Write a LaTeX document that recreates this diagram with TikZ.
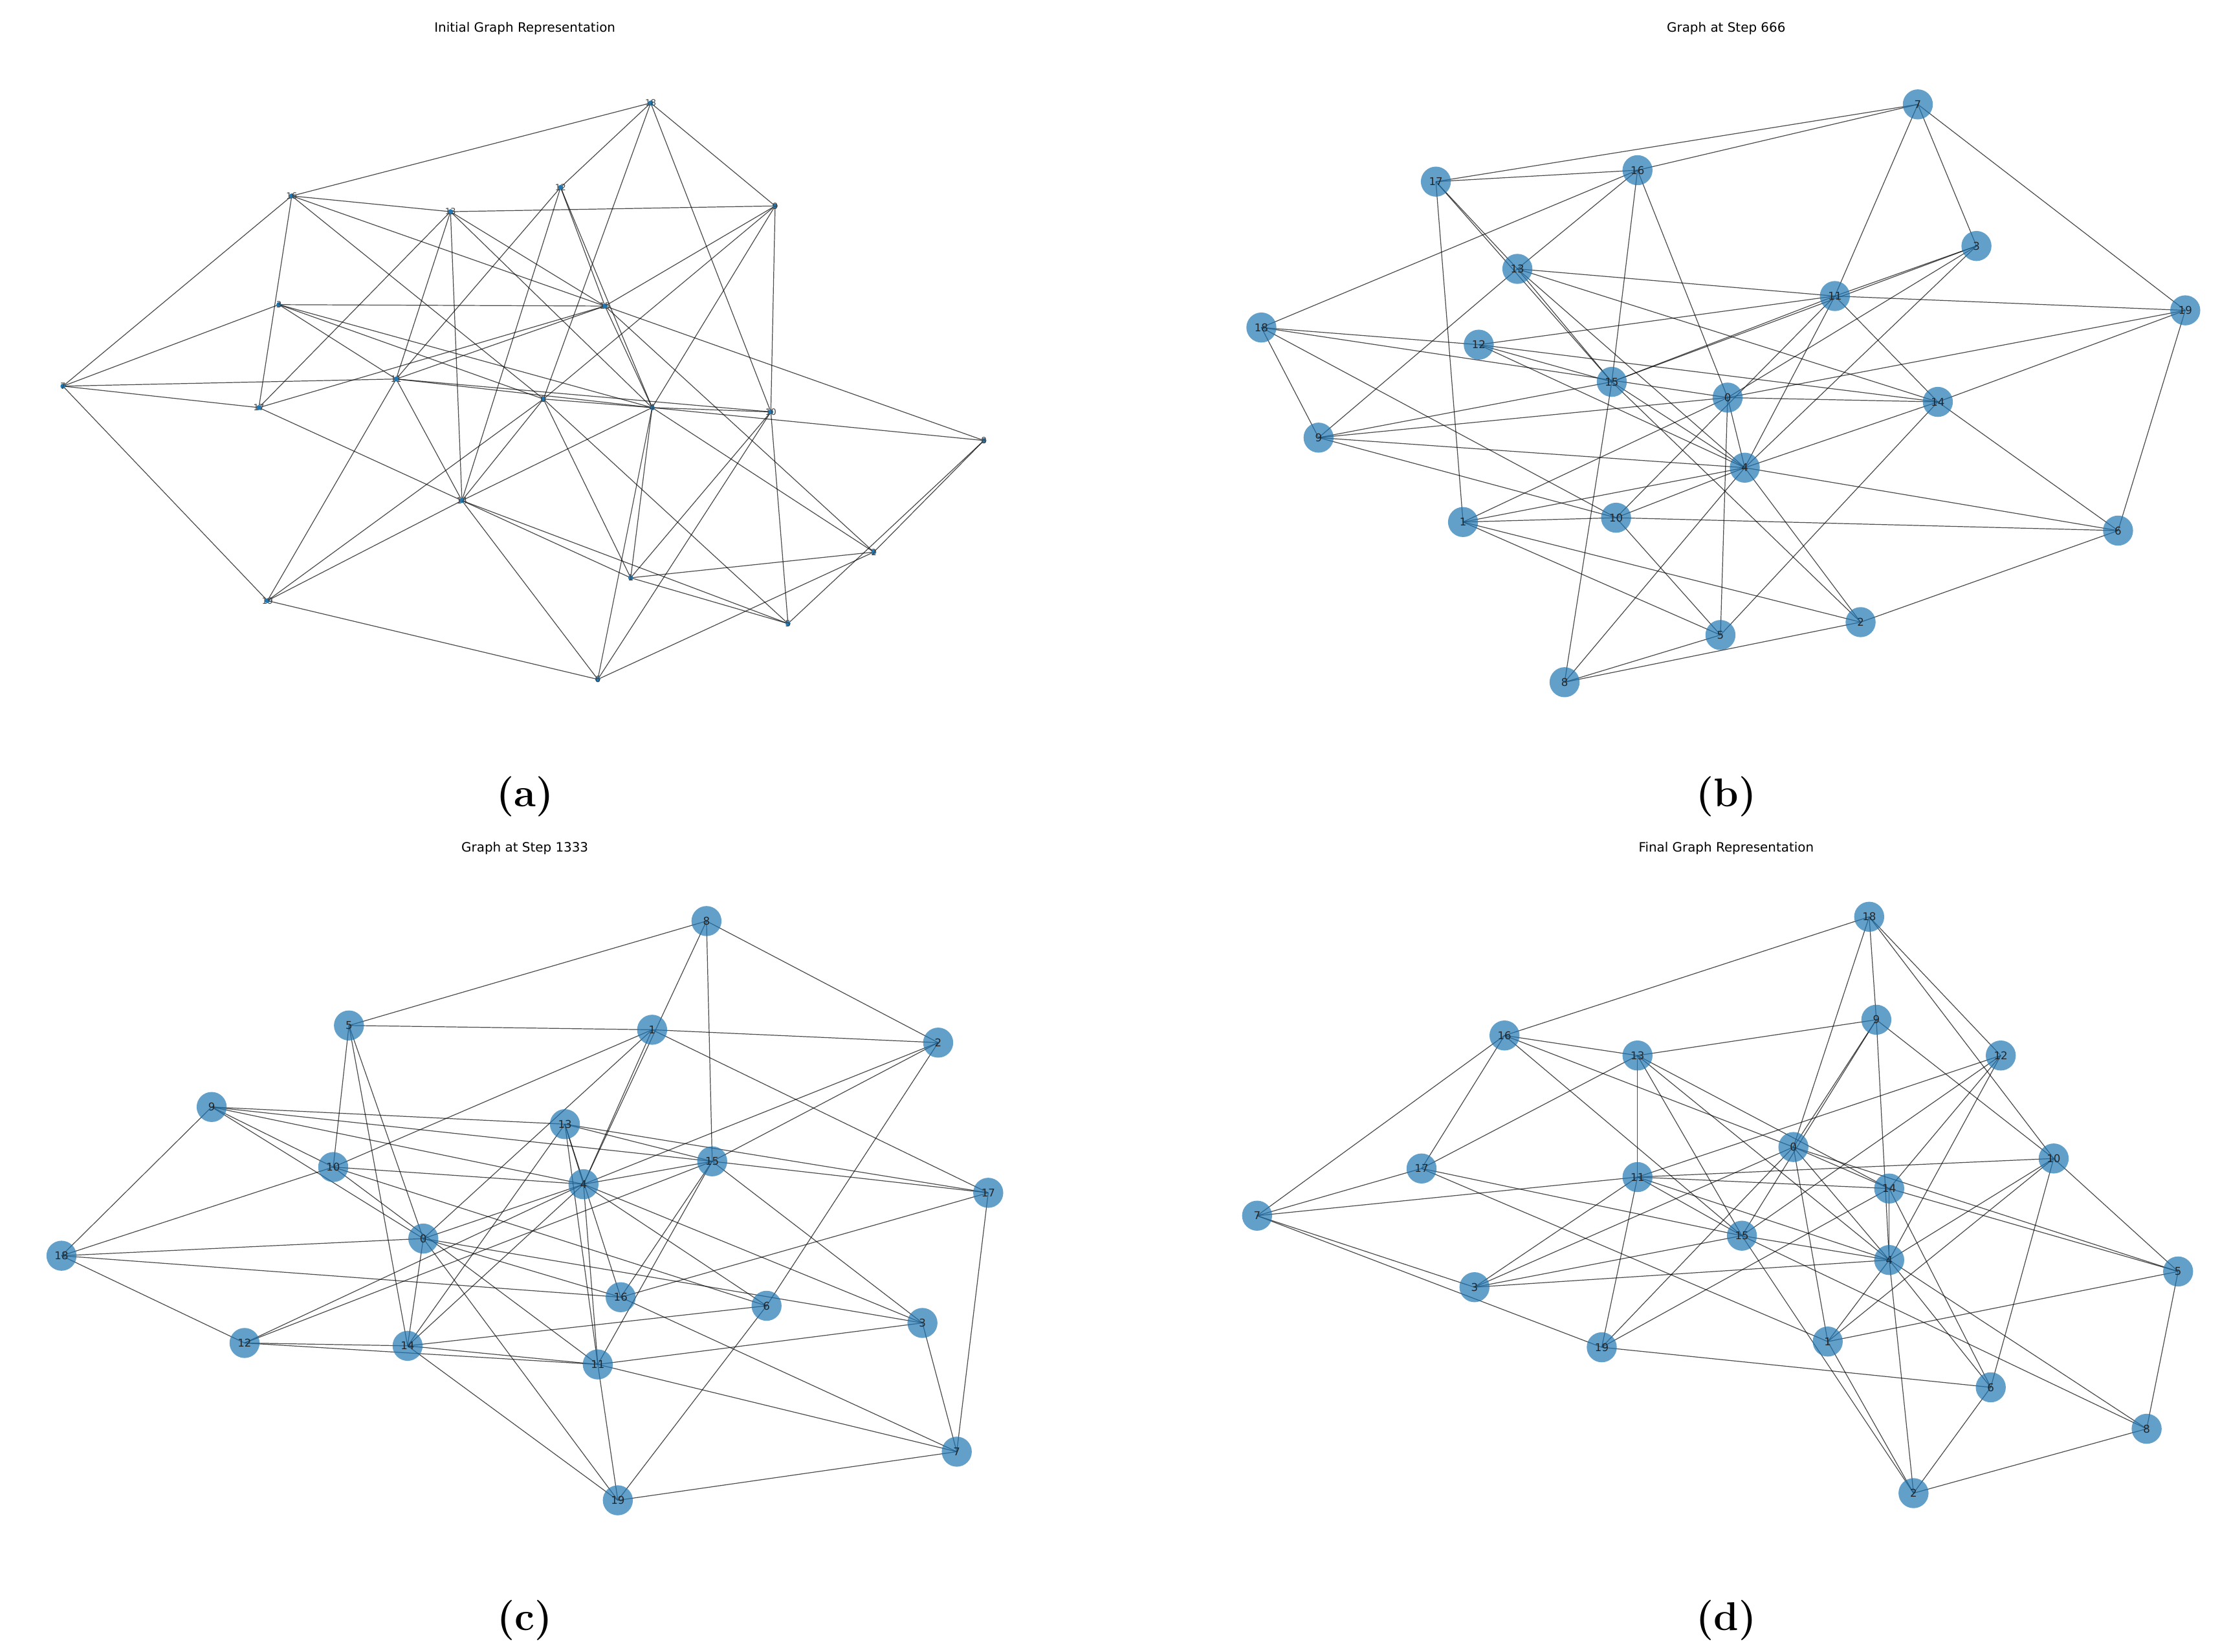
\documentclass[tikz,border=0pt]{standalone}
\usepackage{fontspec}
\newfontfamily\dvs{DejaVu Sans}
\begin{document}
\begin{tikzpicture}[x=1pt,y=-1pt,
  edge/.style={draw=black,draw opacity=0.7,line width=0.55pt},
  bignode/.style={circle,fill={rgb,255:red,31;green,119;blue,180},fill opacity=0.7,text opacity=1,minimum size=21pt,inner sep=0pt,text=black!85,font=\dvs\fontsize{7.5}{8}\selectfont},
  smallnode/.style={circle,fill={rgb,255:red,31;green,119;blue,180},minimum size=3.5pt,inner sep=0pt},
  smalllabel/.style={text=black!75,font=\dvs\fontsize{6}{6}\selectfont,inner sep=0pt},
  ttl/.style={font=\dvs\fontsize{9}{10}\selectfont},
  capt/.style={font=\bfseries\fontsize{28}{30}\selectfont}]
\useasboundingbox (0,0) rectangle (1560,1155);
% panel a coordinates
\foreach \n/\x/\y in {7/44/270,16/204/137,13/315/148,3/195/213,11/277/265,17/181/285,0/380/279,14/323/350,19/187/420,18/455/72,12/392/131,9/542/144,15/423/214,4/456/285,10/539/288,8/688/308,2/611/386,1/441/404,5/551/436,6/418/475}
  \coordinate (a\n) at (\x,\y);
% panel b
\foreach \n/\x/\y in {7/1341/73,17/1004/127,16/1145/119,13/1061/188,3/1382/172,11/1283/207,19/1528/217,18/882/229,12/1034/241,15/1127/267,0/1208/278,14/1355/281,9/922/306,4/1220/327,1/1023/365,10/1130/362,6/1481/371,2/1301/435,5/1203/444,8/1094/477}
  \coordinate (b\n) at (\x,\y);
% panel c
\foreach \n/\x/\y in {8/494/644,5/244/717,1/456/720,2/656/729,9/148/774,13/395/786,10/233/816,4/408/828,15/498/812,17/691/834,0/296/866,18/43/878,16/434/907,6/536/913,3/645/925,12/171/939,14/285/941,11/418/954,7/669/1015,19/432/1049}
  \coordinate (c\n) at (\x,\y);
% panel d
\foreach \n/\x/\y in {16/1052/724,13/1145/738,17/994/817,11/1145/823,7/879/850,15/1218/864,3/1031/900,19/1120/942,18/1307/641,9/1312/713,12/1399/738,0/1254/802,10/1436/810,14/1321/831,4/1321/881,5/1523/889,1/1278/938,6/1392/970,8/1501/999,2/1338/1044}
  \coordinate (d\n) at (\x,\y);
% edges
\foreach \p in {a,b,c,d}{
 \foreach \u/\v in {7/16,7/17,7/11,7/3,7/19,16/13,16/18,16/17,16/0,16/15,13/17,13/11,13/9,13/14,13/4,13/15,18/0,18/9,18/12,18/10,9/0,9/15,9/10,9/4,12/11,12/15,12/14,12/4,10/11,10/5,10/6,10/4,10/1,14/0,14/11,14/4,14/6,14/5,14/19,0/4,0/1,0/5,0/3,0/19,17/15,17/1,11/3,11/19,11/15,11/4,15/3,15/2,15/4,15/8,3/4,19/6,4/1,4/2,4/6,4/8,1/5,1/2,2/6,2/8,5/8}
  \draw[edge] (\p\u) -- (\p\v);
}
% nodes
\foreach \n in {0,...,19}{
  \node[smallnode] (na\n) at (a\n) {};
  \node[smalllabel] (la\n) at (a\n) {\n};
  \node[bignode] (nb\n) at (b\n) {\n};
  \node[bignode] (nc\n) at (c\n) {\n};
  \node[bignode] (nd\n) at (d\n) {\n};
}
% titles
\node[ttl] (ta) at (367,20) {Initial Graph Representation};
\node[ttl] (tb) at (1207,20) {Graph at Step 666};
\node[ttl] (tc) at (367,593) {Graph at Step 1333};
\node[ttl] (td) at (1207,593) {Final Graph Representation};
% captions
\node[capt] (ca) at (367,557) {(a)};
\node[capt] (cb) at (1207,557) {(b)};
\node[capt] (cc) at (367,1133) {(c)};
\node[capt] (cd) at (1207,1133) {(d)};
\end{tikzpicture}
\end{document}
